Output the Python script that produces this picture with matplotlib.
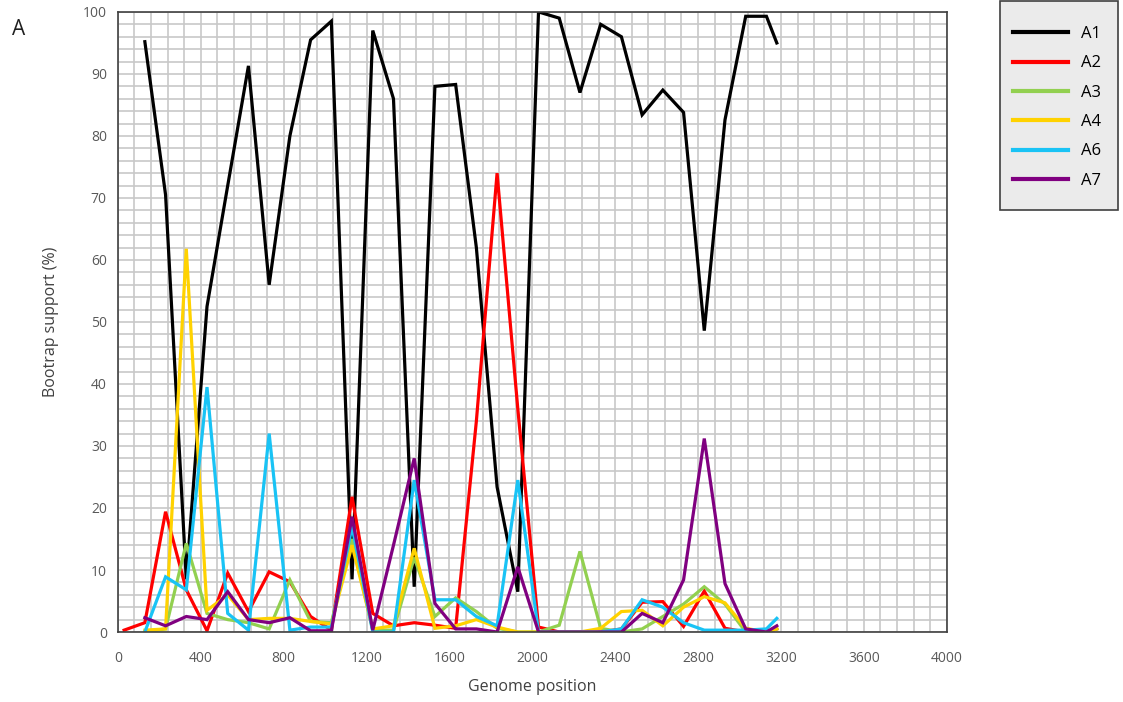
import matplotlib.pyplot as plt
from matplotlib.ticker import MultipleLocator
from matplotlib.patches import Rectangle
import numpy as np

# window midpoints along the genome
positions = [30, 130, 230, 330, 430, 530, 630, 730, 830, 930, 1030,
             1130, 1230, 1330, 1430, 1530, 1630, 1730, 1830, 1930, 2030,
             2130, 2230, 2330, 2430, 2530, 2630, 2730, 2830, 2930, 3030,
             3130, 3180]

nan = np.nan
a1 = [nan, 95.2, 70.5, 8.5, 52.5, 72, 91.3, 56, 80, 95.5, 98.5,
      8.5, 97, 86, 7.3, 88, 88.3, 62, 23.4, 6.5, 100,
      99, 87, 98, 96, 83.4, 87.4, 83.8, 48.6, 82.6, 99.3,
      99.3, 95]
a2 = [0.3, 1.5, 19.4, 6.8, 0.2, 9.5, 3.3, 9.7, 8.1, 2.5, 0.3,
      21.8, 3, 1, 1.5, 1.1, 0.6, 34, 74, 36, 0.8,
      0, 0, 0, 0.5, 4.8, 4.9, 0.9, 6.6, 0.6, 0,
      0, 0.5]
a3 = [nan, 0, 0.5, 14.3, 3, 2, 1.5, 0.5, 8.4, 1.7, 1.5,
      15, 0.3, 0.3, 12, 2.5, 5.5, 3.3, 0.6, 0, 0,
      1.1, 13, 0.6, 0, 0.5, 2.5, 4.5, 7.3, 4.5, 0,
      0, 0.5]
a4 = [nan, 0.3, 0.5, 61.8, 3.5, 6, 2, 2.2, 2.2, 1.7, 1.3,
      14, 0.5, 1, 13.5, 0.6, 1, 2, 0.8, 0, 0,
      0, 0, 0.6, 3.3, 3.5, 1, 4, 5.7, 4.7, 0.6,
      0, 0.5]
a6 = [nan, 0, 8.9, 6.8, 39.5, 3, 0.3, 32, 0.3, 0.8, 0.8,
      17, 0, 0, 24.5, 5.2, 5.2, 2.5, 1, 24.5, 0,
      0, 0, 0, 0.5, 5.2, 4, 1.5, 0.3, 0.3, 0.3,
      0.5, 2.2]
a7 = [nan, 2.3, 1, 2.5, 2, 6.5, 2, 1.5, 2.3, 0.2, 0.2,
      18.6, 0.3, 14, 28, 4.6, 0.5, 0.5, 0, 10.5, 0,
      0, 0, 0, 0, 3, 1.5, 8.4, 31.2, 7.8, 0.5,
      0, 1]

series = [("A1", a1, "#000000"), ("A2", a2, "#ff0000"), ("A3", a3, "#92d050"),
          ("A4", a4, "#ffd200"), ("A6", a6, "#19c3f5"), ("A7", a7, "#800080")]

plt.rcParams['font.family'] = ['Open Sans', 'DejaVu Sans']

W, H = 1123, 702
fig = plt.figure(figsize=(W / 100, H / 100), dpi=100)
ax = fig.add_axes([0.105, 0.0997, 0.738, 0.8833])

for name, vals, col in series:
    ax.plot(positions, vals, color=col, linewidth=2.3, label=name,
            solid_joinstyle='miter')

ax.set_xlim(0, 4000)
ax.set_ylim(0, 100)
ax.xaxis.set_major_locator(MultipleLocator(400))
ax.xaxis.set_minor_locator(MultipleLocator(80))
ax.yaxis.set_major_locator(MultipleLocator(10))
ax.yaxis.set_minor_locator(MultipleLocator(2))
ax.grid(True, which='both', color='#c8c8c8', linewidth=1.2)
ax.set_axisbelow(True)
ax.tick_params(which='both', length=0, labelsize=10, colors='#595959')
ax.tick_params(axis='x', pad=14)
ax.tick_params(axis='y', pad=8)
for sp in ax.spines.values():
    sp.set_color('#404040')
    sp.set_linewidth(1.2)

ax.set_xlabel('Genome position', fontsize=11.5, color='#404040', labelpad=9)
ax.set_ylabel('Bootrap support (%)', fontsize=11.5, color='#404040', labelpad=17)

fig.text(0.011, 0.95, 'A', fontsize=15, color='#202020')

# legend box
fig.patches.append(Rectangle((1000 / W, 1 - 210 / H), 118 / W, 209 / H,
                             transform=fig.transFigure, facecolor='#ebebeb',
                             edgecolor='#404040', linewidth=1.2, zorder=0))
leg = fig.legend(loc='upper left', bbox_to_anchor=(1013 / W, 1 - 26 / H),
                 borderaxespad=0, borderpad=0, fontsize=12, frameon=False,
                 handlelength=3.3, handletextpad=0.8, labelspacing=0.8)
for line in leg.get_lines():
    line.set_linewidth(3)

fig.savefig('out.png', dpi=100)
